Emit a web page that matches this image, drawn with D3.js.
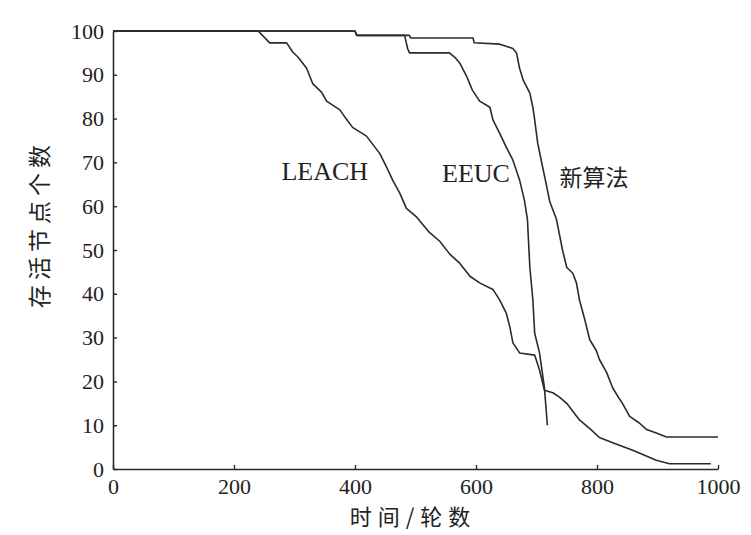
<!DOCTYPE html>
<html>
<head>
<meta charset="utf-8">
<script src="https://cdn.jsdelivr.net/npm/d3@7"></script>
<style>
  html, body { margin: 0; padding: 0; background: #fff; }
  svg { display: block; }
</style>
</head>
<body>
<svg id="chart" width="751" height="535"></svg>
<script>
// Surviving node count over rounds for three clustering protocols
const xTicks = [0, 200, 400, 600, 800, 1000];
const yTicks = [0, 10, 20, 30, 40, 50, 60, 70, 80, 90, 100];

const leachRounds = [0, 240, 259, 287, 297, 306, 320, 330, 345, 353, 375, 385, 396, 419, 441, 452, 462, 474, 485, 502, 523, 540, 557, 573, 590, 606, 628, 639, 650, 656, 661, 672, 697, 705, 713, 727, 738, 750, 771, 790, 804, 826, 859, 898, 920, 988];
const leachAlive  = [100, 100, 97.3, 97.3, 95.2, 94, 91.5, 88, 86, 84, 82, 80, 78, 76, 72, 69, 66, 63, 59.5, 57.5, 54, 52, 49, 47, 44, 42.5, 41, 38.6, 35.6, 32.4, 28.8, 26.5, 26, 22.6, 18, 17.4, 16.4, 15, 11.2, 9, 7.2, 6, 4.3, 2, 1.2, 1.2];

const eeucRounds = [0, 400, 403, 482, 487, 490, 556, 565, 573, 585, 594, 606, 623, 628, 639, 650, 661, 672, 680, 685, 689, 694, 697, 705, 713, 718];
const eeucAlive  = [100, 100, 99, 99, 96, 95, 95, 94, 92.7, 89.5, 86.5, 84, 82.6, 79.7, 76.7, 73.5, 70.5, 66, 61.4, 57, 46, 38.6, 31, 26.5, 18.7, 10];

const newRounds = [0, 400, 403, 490, 492, 595, 597, 639, 650, 661, 667, 672, 678, 689, 694, 697, 702, 710, 717, 722, 733, 743, 750, 760, 766, 771, 780, 788, 799, 804, 816, 826, 837, 842, 854, 870, 882, 898, 915, 1000];
const newAlive  = [100, 100, 99, 99, 98.4, 98.4, 97.3, 97, 96.5, 96, 95, 91.5, 88.8, 85.8, 82.6, 79.7, 74.4, 69, 64.4, 61, 57, 50, 46, 44.7, 42.5, 38.6, 34, 29.5, 27, 25, 22, 18.5, 16, 15, 12, 10.5, 9, 8.2, 7.3, 7.3];

const seriesNames = ["LEACH", "EEUC", "新算法"];
const seriesRounds = [leachRounds, eeucRounds, newRounds];
const seriesAlive = [leachAlive, eeucAlive, newAlive];
// label anchor (round, alive) for each series name
const labelRound = [350, 600, 795];
const labelAlive = [68, 67.5, 67];

const xLabel = "时间/轮数";
const yLabel = "存活节点个数";

const W = 751, H = 535;
const margin = { left: 113, right: 33, top: 31, bottom: 66 };

const svg = d3.select("#chart");
const x = d3.scaleLinear().domain([0, 1000]).range([margin.left, W - margin.right]);
const y = d3.scaleLinear().domain([0, 100]).range([H - margin.bottom, margin.top]);

const ink = "#2b2b2b";
const serif = "'Liberation Serif', 'DejaVu Serif', serif";
const cjk = "'Noto Sans CJK SC', 'Noto Sans', sans-serif";

// axes with inward ticks
const gx = svg.append("g")
  .attr("transform", `translate(0,${y(0)})`)
  .call(d3.axisBottom(x).tickValues(xTicks).tickFormat(d3.format("d"))
    .tickSize(-4).tickSizeOuter(0).tickPadding(9));
const gy = svg.append("g")
  .attr("transform", `translate(${x(0)},0)`)
  .call(d3.axisLeft(y).tickValues(yTicks).tickFormat(d3.format("d"))
    .tickSize(-4).tickSizeOuter(0).tickPadding(9));

[gx, gy].forEach(g => {
  g.select(".domain").attr("stroke", ink).attr("stroke-width", 1.6);
  g.selectAll(".tick line").attr("stroke", ink).attr("stroke-width", 1.4);
  g.selectAll(".tick text")
    .attr("fill", "#222")
    .style("font-family", serif)
    .style("font-size", "22px");
});

// survival curves
const line = d3.line()
  .x(d => x(d[0]))
  .y(d => y(d[1]))
  .curve(d3.curveLinear);

seriesNames.forEach((name, i) => {
  const pts = seriesRounds[i].map((r, k) => [r, seriesAlive[i][k]]);
  svg.append("path")
    .datum(pts)
    .attr("fill", "none")
    .attr("stroke", ink)
    .attr("stroke-width", 1.6)
    .attr("stroke-linejoin", "round")
    .attr("d", line);
});

// series name labels placed beside each curve
seriesNames.forEach((name, i) => {
  const isCjk = /[\u4e00-\u9fff]/.test(name);
  svg.append("text")
    .attr("x", x(labelRound[i]))
    .attr("y", y(labelAlive[i]))
    .attr("text-anchor", "middle")
    .attr("dominant-baseline", "central")
    .attr("fill", "#222")
    .style("font-family", isCjk ? cjk : serif)
    .style("font-size", isCjk ? "23px" : "26px")
    .text(name);
});

// axis titles
svg.append("text")
  .attr("x", 413)
  .attr("y", 515)
  .attr("text-anchor", "middle")
  .attr("dominant-baseline", "central")
  .attr("fill", "#222")
  .style("font-family", cjk)
  .style("font-size", "22px")
  .style("letter-spacing", "6px")
  .text(xLabel);

svg.append("text")
  .attr("transform", `translate(38,224) rotate(-90)`)
  .attr("text-anchor", "middle")
  .attr("dominant-baseline", "central")
  .attr("fill", "#222")
  .style("font-family", cjk)
  .style("font-size", "23px")
  .style("letter-spacing", "5px")
  .text(yLabel);
</script>
</body>
</html>
